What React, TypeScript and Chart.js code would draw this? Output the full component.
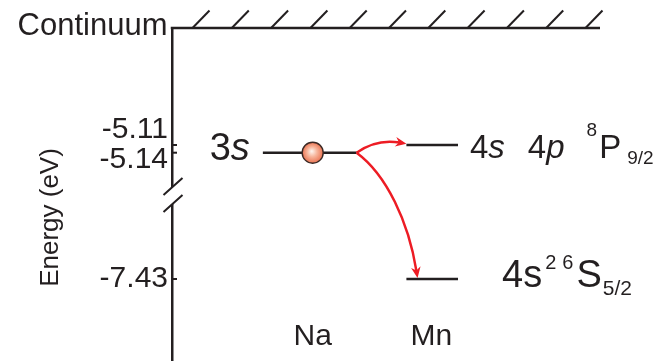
import React, { useEffect, useRef } from "react";
import { Chart, registerables } from "chart.js";

Chart.register(...registerables);

// ---------------- data ----------------
const species = ["Na", "Mn"];
const levelSpecies = [0, 1, 1];
const levelEnergies = [-5.14, -5.11, -7.43];
const levelAxis = ["yTop", "yTop", "yBot"];
const levelLabelParts = [
  ["3", "s"],
  ["4", "s", "4", "p", "8", "P", "9/2"],
  ["4", "s", "2", "6", "S", "5/2"],
];
const transitions = [
  [0, 1],
  [0, 2],
];
const topTickValues = [-5.11, -5.14];
const bottomTickValues = [-7.43];
const tickLabels = ["-5.11", "-5.14", "-7.43"];
const axisTitle = "Energy (eV)";
const continuumLabel = "Continuum";

// ---------------- styles ----------------
const FONT = '"Liberation Sans", Arial, Helvetica, sans-serif';
const INK = "#231f20";
const RED = "#ed1c24";
const speciesSpan: Record<number, [number, number]> = { 0: [-0.42, 0.37], 1: [-0.21, 0.225] };

type RunStyle = { size: number; italic?: boolean; dy?: number; gap?: number };
const labelStyles: { side: "left" | "right"; dx: number; dy: number; runs: RunStyle[] }[] = [
  { side: "left", dx: -13, dy: 7.5, runs: [{ size: 38 }, { size: 38, italic: true }] },
  {
    side: "right",
    dx: 12,
    dy: 13,
    runs: [
      { size: 33 },
      { size: 33, italic: true },
      { size: 33, gap: 23 },
      { size: 33, italic: true },
      { size: 19, dy: -22, gap: 22 },
      { size: 33, gap: 2 },
      { size: 19, dy: 6, gap: 6 },
    ],
  },
  {
    side: "right",
    dx: 44,
    dy: 8,
    runs: [
      { size: 38 },
      { size: 38 },
      { size: 20, dy: -18, gap: 3 },
      { size: 20, dy: -18, gap: 6 },
      { size: 38, gap: 3 },
      { size: 21, dy: 8, gap: 1 },
    ],
  },
];

const f = (size: number, italic = false) => `${italic ? "italic " : ""}${size}px ${FONT}`;

function tickText(value: number): string | string[] {
  const all = [...topTickValues, ...bottomTickValues];
  const idx = all.findIndex((v) => Math.abs(v - value) < 1e-6);
  const label = idx >= 0 ? tickLabels[idx] : "";
  if (idx === 0) return [label, "", ""];
  if (idx === 1) return ["", label];
  return label;
}

function drawRuns(ctx: CanvasRenderingContext2D, parts: string[], runs: RunStyle[], x: number, y: number, alignRight: boolean) {
  let total = 0;
  parts.forEach((t, i) => {
    const r = runs[i];
    ctx.font = f(r.size, r.italic);
    total += (r.gap || 0) + ctx.measureText(t).width;
  });
  let cx = alignRight ? x - total : x;
  ctx.textAlign = "left";
  ctx.textBaseline = "alphabetic";
  parts.forEach((t, i) => {
    const r = runs[i];
    ctx.font = f(r.size, r.italic);
    cx += r.gap || 0;
    ctx.fillText(t, cx, y + (r.dy || 0));
    cx += ctx.measureText(t).width;
  });
}

const diagramPlugin = {
  id: "diagram",
  afterDraw(chart: any) {
    const ctx: CanvasRenderingContext2D = chart.ctx;
    const { left, right, top, bottom } = chart.chartArea;
    const xs = chart.scales.x;
    const yTop = chart.scales.yTop;
    const yBot = chart.scales.yBot;
    const levelPix = levelEnergies.map((e, i) => {
      const sc = chart.scales[levelAxis[i]];
      const s = speciesSpan[levelSpecies[i]];
      return {
        x1: xs.getPixelForValue(levelSpecies[i] + s[0]),
        x2: xs.getPixelForValue(levelSpecies[i] + s[1]),
        y: sc.getPixelForValue(e),
      };
    });
    ctx.save();
    ctx.strokeStyle = INK;
    ctx.fillStyle = INK;
    ctx.lineCap = "butt";

    // continuum border + hatches
    ctx.lineWidth = 2.5;
    ctx.beginPath();
    ctx.moveTo(left - 1.25, top);
    ctx.lineTo(right, top);
    ctx.stroke();
    ctx.lineWidth = 2;
    for (let i = 0; i < 11; i++) {
      const hx = left + 20.5 + i * 39.3;
      ctx.beginPath();
      ctx.moveTo(hx, top);
      ctx.lineTo(hx + 17, top - 17.5);
      ctx.stroke();
    }

    // inward ticks
    ctx.lineWidth = 2;
    [yTop, yBot].forEach((sc: any) => {
      sc.ticks.forEach((t: any) => {
        const py = sc.getPixelForValue(t.value);
        ctx.beginPath();
        ctx.moveTo(left, py);
        ctx.lineTo(left + 5, py);
        ctx.stroke();
      });
    });

    // axis break
    const B = Math.min(yTop.bottom, yBot.bottom);
    ctx.fillStyle = "#ffffff";
    ctx.fillRect(left - 3, B - 8, 6, 17);
    ctx.fillStyle = INK;
    ctx.lineWidth = 2;
    ctx.beginPath();
    ctx.moveTo(left - 8.5, B);
    ctx.lineTo(left + 10.5, B - 17);
    ctx.moveTo(left - 8.5, B + 17);
    ctx.lineTo(left + 10.5, B);
    ctx.stroke();

    // transitions (arrows)
    ctx.strokeStyle = RED;
    ctx.fillStyle = RED;
    ctx.lineWidth = 2.5;
    transitions.forEach(([from, to], k) => {
      const a = levelPix[from];
      const b = levelPix[to];
      const p0 = { x: a.x2, y: a.y };
      let p3: { x: number; y: number }, p1: { x: number; y: number }, p2: { x: number; y: number };
      if (k === 0) {
        p3 = { x: b.x1 - 1, y: b.y - 1.5 };
        p1 = { x: p0.x + 12, y: p0.y - 8.5 };
        p2 = { x: p3.x - 18, y: p3.y - 3 };
      } else {
        p3 = { x: b.x1 + 11, y: b.y - 2 };
        p1 = { x: p0.x + 30, y: p0.y + 22 };
        p2 = { x: p3.x - 8, y: p3.y - 50 };
      }
      const ang = Math.atan2(p3.y - p2.y, p3.x - p2.x);
      const ux = Math.cos(ang), uy = Math.sin(ang);
      ctx.beginPath();
      ctx.moveTo(p0.x, p0.y);
      ctx.bezierCurveTo(p1.x, p1.y, p2.x - 5 * ux, p2.y - 5 * uy, p3.x - 6 * ux, p3.y - 6 * uy);
      ctx.stroke();
      ctx.save();
      ctx.translate(p3.x, p3.y);
      ctx.rotate(ang);
      ctx.beginPath();
      ctx.moveTo(1, 0);
      ctx.lineTo(-10, -4.8);
      ctx.lineTo(-6.5, 0);
      ctx.lineTo(-10, 4.8);
      ctx.closePath();
      ctx.fill();
      ctx.restore();
    });

    // electron ball on Na 3s
    const bx = xs.getPixelForValue(levelSpecies[0]);
    const by = levelPix[0].y;
    const r = 10.5;
    const g = ctx.createRadialGradient(bx - 1, by - 1.5, 0.5, bx, by, r);
    g.addColorStop(0, "#fdf1ea");
    g.addColorStop(0.45, "#f7b49a");
    g.addColorStop(1, "#ea7453");
    ctx.beginPath();
    ctx.arc(bx, by, r, 0, Math.PI * 2);
    ctx.fillStyle = g;
    ctx.fill();
    ctx.lineWidth = 1.4;
    ctx.strokeStyle = "#3a2925";
    ctx.stroke();

    // level labels
    ctx.fillStyle = INK;
    levelLabelParts.forEach((parts, i) => {
      const st = labelStyles[i];
      const lp = levelPix[i];
      const ax = st.side === "left" ? lp.x1 + st.dx : lp.x2 + st.dx;
      drawRuns(ctx, parts, st.runs, ax, lp.y + st.dy, st.side === "left");
    });

    // species labels
    ctx.font = f(30);
    ctx.textAlign = "center";
    ctx.textBaseline = "alphabetic";
    species.forEach((s, i) => {
      ctx.fillText(s, xs.getPixelForValue(i), bottom - 15);
    });

    // continuum label
    ctx.font = f(31);
    ctx.textAlign = "right";
    ctx.fillText(continuumLabel, left - 4.5, top + 7);

    // axis title
    ctx.save();
    ctx.translate(58, 217.5);
    ctx.rotate(-Math.PI / 2);
    ctx.font = f(26);
    ctx.textAlign = "center";
    ctx.textBaseline = "alphabetic";
    ctx.fillText(axisTitle, 0, 0);
    ctx.restore();

    ctx.restore();
  },
};

export default function App() {
  const ref = useRef<HTMLCanvasElement | null>(null);
  useEffect(() => {
    document.body.style.margin = "0";
    const canvas = ref.current;
    if (!canvas) return;
    const yCommon = (ticks: number[], weight: number, min: number, max: number) => ({
      type: "linear" as const,
      position: "left" as const,
      stack: "energy",
      stackWeight: weight,
      min,
      max,
      grid: { display: false, drawTicks: false },
      border: { display: true, color: INK, width: 2.5 },
      afterBuildTicks: (scale: any) => {
        scale.ticks = ticks.map((v) => ({ value: v }));
      },
      afterFit: (scale: any) => {
        scale.width = 172;
        scale.paddingTop = 0;
        scale.paddingBottom = 0;
      },
      ticks: {
        autoSkip: false,
        padding: 4,
        color: INK,
        font: { family: FONT, size: 30, lineHeight: 0.5 },
        callback: (v: any) => tickText(Number(v)),
      },
    });
    const chart = new Chart(canvas, {
      type: "line",
      data: {
        datasets: levelEnergies.map((e, i) => {
          const s = speciesSpan[levelSpecies[i]];
          return {
            data: [
              { x: levelSpecies[i] + s[0], y: e },
              { x: levelSpecies[i] + s[1], y: e },
            ],
            yAxisID: levelAxis[i],
            xAxisID: "x",
            borderColor: INK,
            borderWidth: 2.5,
            pointRadius: 0,
            fill: false,
            tension: 0,
          };
        }),
      },
      options: {
        responsive: false,
        animation: false,
        events: [],
        layout: { padding: { left: 0, top: 28, right: 55, bottom: 2 } },
        plugins: { legend: { display: false }, tooltip: { enabled: false } },
        scales: {
          x: { type: "linear", min: -1.186, max: 2.422, display: false },
          yBot: yCommon(bottomTickValues, 165, -7.7455, -7.1028),
          yTop: yCommon(topTickValues, 167, -5.3048, -4.6542),
        },
      } as any,
      plugins: [diagramPlugin],
    });
    return () => chart.destroy();
  }, []);
  return (
    <div style={{ position: "absolute", left: 0, top: 0, width: 655, height: 362, background: "#fff" }}>
      <canvas ref={ref} width={655} height={362} />
    </div>
  );
}
